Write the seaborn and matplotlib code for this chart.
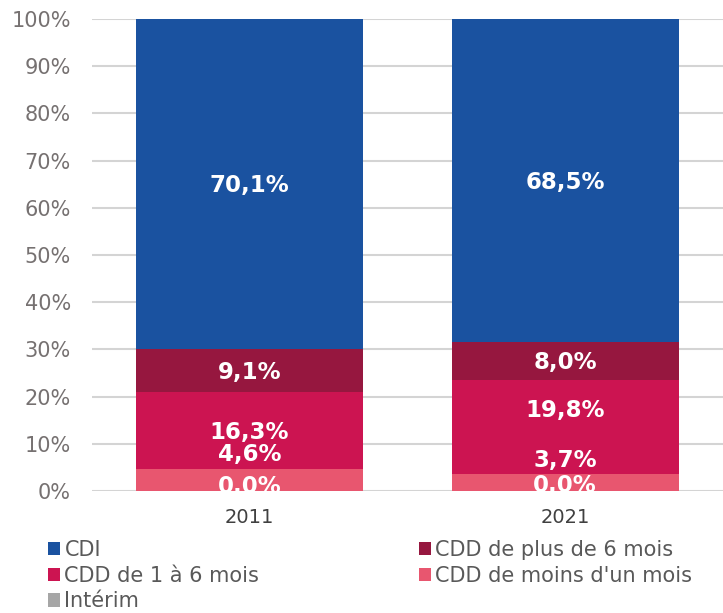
import matplotlib
matplotlib.use("Agg")
import matplotlib.pyplot as plt
import seaborn as sns
import pandas as pd
import numpy as np
from matplotlib.patches import Patch

years = ["2011", "2021"]
series = ["Intérim", "CDD de moins d'un mois", "CDD de 1 à 6 mois", "CDD de plus de 6 mois", "CDI"]
interim = [0.0, 0.0]
cdd_moins_1m = [4.6, 3.7]
cdd_1_6m = [16.3, 19.8]
cdd_plus_6m = [9.1, 8.0]
cdi = [70.1, 68.5]
yticks = [0, 10, 20, 30, 40, 50, 60, 70, 80, 90, 100]

colors = {
    "CDI": "#1a52a0",
    "CDD de plus de 6 mois": "#96173f",
    "CDD de 1 à 6 mois": "#cc1451",
    "CDD de moins d'un mois": "#e8566f",
    "Intérim": "#a6a6a6",
}
# label nudges (in % units) to reproduce the placement of the reference labels
label_nudge = {
    "Intérim": [0.9, 1.2],
    "CDD de moins d'un mois": [5.5, 4.7],
    "CDD de 1 à 6 mois": [-0.35, 3.5],
    "CDD de plus de 6 mois": [-0.35, -0.3],
    "CDI": [-0.4, -0.45],
}

values = {"Intérim": interim, "CDD de moins d'un mois": cdd_moins_1m,
          "CDD de 1 à 6 mois": cdd_1_6m, "CDD de plus de 6 mois": cdd_plus_6m, "CDI": cdi}

rows = []
cum = np.zeros(len(years))
bottoms = {}
for s in series:
    bottoms[s] = cum.copy()
    cum = cum + np.array(values[s])
    for i, y in enumerate(years):
        rows.append({"year": y, "series": s, "value": values[s][i], "top": cum[i]})
df = pd.DataFrame(rows)

sns.set_theme(style="white")
plt.rcParams["font.family"] = ["DejaVu Sans"]

fig = plt.figure(figsize=(7.23, 6.13), dpi=100)
ax = fig.add_axes([0.127, 0.199, 0.873, 0.770])

for s in reversed(series):
    sub = df[df["series"] == s]
    sns.barplot(data=sub, x="year", y="top", order=years, color=colors[s],
                width=0.72, ax=ax, saturation=1, errorbar=None, zorder=2,
                linewidth=0, edgecolor="none")

for s in series:
    for i, y in enumerate(years):
        v = values[s][i]
        yc = bottoms[s][i] + v / 2 + label_nudge[s][i]
        ax.text(i, yc, f"{v:.1f}%".replace(".", ","), ha="center", va="center",
                color="white", fontsize=16.5, fontweight="bold", zorder=5, clip_on=True)

ax.set_ylim(0, 100)
ax.set_xlim(-0.5, 1.5)
ax.set_yticks(yticks)
ax.set_yticklabels([f"{t}%" for t in yticks])
ax.yaxis.grid(True, color="#d4d4d4", linewidth=1.5, zorder=0)
ax.set_axisbelow(True)
for sp in ax.spines.values():
    sp.set_visible(False)
ax.set_xlabel("")
ax.set_ylabel("")
ax.tick_params(axis="y", labelsize=15, labelcolor="#767171", length=0, pad=15)
ax.tick_params(axis="x", labelsize=14, labelcolor="#404040", length=0, pad=12)

legend_order = ["CDI", "CDD de 1 à 6 mois", "Intérim", "CDD de plus de 6 mois", "CDD de moins d'un mois"]
handles = [Patch(facecolor=colors[s], edgecolor="none", label=s) for s in legend_order]
leg = fig.legend(handles=handles, loc="upper left", bbox_to_anchor=(0.066, 0.119),
                 ncol=2, frameon=False, fontsize=15, handlelength=0.6, handleheight=0.6,
                 handletextpad=0.2, columnspacing=7.65, labelspacing=0.27, borderpad=0,
                 borderaxespad=0, labelcolor="#595959")

fig.savefig("out.png", dpi=100)
